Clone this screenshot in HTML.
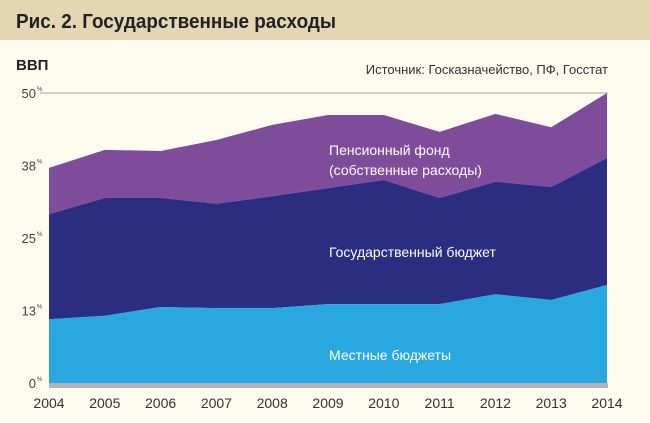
<!DOCTYPE html>
<html><head><meta charset="utf-8"><style>
body{margin:0;width:650px;height:418px;background:#fdfaee;font-family:"Liberation Sans","Noto Sans CJK SC",sans-serif;overflow:hidden}
</style></head><body>
<svg width="650" height="418" xmlns="http://www.w3.org/2000/svg">
<rect x="0" y="0" width="650" height="40" fill="#e3d6b3"/>
<text x="16" y="28" font-size="20" font-weight="bold" fill="#222" textLength="320" lengthAdjust="spacingAndGlyphs">Рис. 2. Государственные расходы</text>
<text x="16" y="70" font-size="15" font-weight="bold" fill="#222">ВВП</text>
<text x="608" y="74" font-size="13" fill="#333" text-anchor="end">Источник: Госказначейство, ПФ, Госстат</text>
<g id="plot"></g>
</svg>
<script>
const years=[2004,2005,2006,2007,2008,2009,2010,2011,2012,2013,2014];
const local=[11.0,11.6,13.1,12.9,12.9,13.6,13.6,13.6,15.3,14.3,16.9];
const budget=[18.1,20.3,18.8,18.0,19.3,20.0,21.4,18.3,19.4,19.5,21.9];
const pension=[8.0,8.3,8.1,11.0,12.3,12.6,11.2,11.4,11.7,10.3,11.2];
const yTicks=[0,12.5,25,37.5,50];
const yLabels=["0","13","25","38","50"];
const NS="http://www.w3.org/2000/svg";
const g=document.getElementById('plot');
const x0=49,x1=607,yb=383,yt=93;
const X=i=>x0+(x1-x0)*i/(years.length-1);
const Y=v=>yb-(yb-yt)*v/50;
function mk(t,a){const e=document.createElementNS(NS,t);for(const k in a)e.setAttribute(k,a[k]);g.appendChild(e);return e;}
let gl=mk('line',{x1:40,x2:608,y1:Y(50),y2:Y(50),stroke:'#d8cfc6','stroke-width':2});


const c1=local, c2=local.map((v,i)=>v+budget[i]), c3=c2.map((v,i)=>v+pension[i]);
function area(top,bot,fill,name){
  let d='M'+top.map((v,i)=>X(i)+','+Y(v)).join(' L');
  for(let i=bot.length-1;i>=0;i--)d+=' L'+X(i)+','+Y(bot[i]);
  const p=mk('path',{d:d+'Z',fill:fill});
  
  
}
const zeros=years.map(()=>0);
area(c3,c2,'#7f4c9c','area-pension-fund');
area(c2,c1,'#2b2e80','area-state-budget');
area(c1,zeros,'#29a8e0','area-local-budgets');
let base=mk('rect',{x:x0,y:yb,width:x1-x0+1,height:5,fill:'#b3b3b3'});


yTicks.forEach((t,i)=>{
  const tx=mk('text',{x:36,y:Y(t)+5,'font-size':13,fill:'#444','text-anchor':'end'});
  tx.textContent=yLabels[i];
  
  
  const pc=mk('text',{x:37,y:Y(t)-2,'font-size':6,fill:'#444'});
  pc.textContent='%';
  
  
});
years.forEach((yr,i)=>{
  const tx=mk('text',{x:X(i),y:408,'font-size':14,fill:'#333','text-anchor':'middle'});
  tx.textContent=yr;
  
  
});
function lab(x,y,s,name){const t=mk('text',{x:x,y:y,'font-size':14,fill:'#fff'});t.textContent=s;}
lab(329,155,'Пенсионный фонд','label-pension-fund');
lab(329,175,'(собственные расходы)','label-pension-fund-sub');
lab(329,257,'Государственный бюджет','label-state-budget');
lab(329,360,'Местные бюджеты','label-local-budgets');
</script>
</body></html>
